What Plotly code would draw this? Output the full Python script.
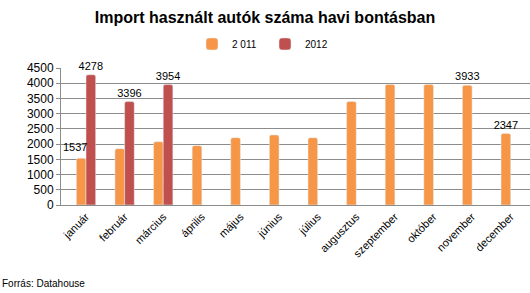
import plotly.graph_objects as go

months = ["január", "február", "március", "április", "május", "június",
          "július", "augusztus", "szeptember", "október", "november", "december"]
v2011 = [1537, 1850, 2080, 1950, 2210, 2300, 2210, 3400, 3960, 3960, 3933, 2347]
v2012 = [4278, 3396, 3954, None, None, None, None, None, None, None, None, None]
labels2011 = ["", "", "", "", "", "", "", "", "", "", "3933", "2347"]
labels2012 = ["4278", "3396", "3954", "", "", "", "", "", "", "", "", ""]

fig = go.Figure()
fig.add_trace(go.Bar(
    x=months, y=v2011, name="2 011", marker_color="#F79646",
    text=labels2011, textposition="outside", cliponaxis=False,
    constraintext="none",
    textfont=dict(size=11, color="#000000"),
))
fig.add_trace(go.Bar(
    x=months, y=v2012, name="2012", marker_color="#C0504D",
    text=labels2012, textposition="outside", cliponaxis=False,
    constraintext="none",
    textfont=dict(size=11, color="#000000"),
))

# January 2011 label sits to the left of the taller 2012 bar
fig.add_annotation(x=months[0], y=v2011[0], text=str(v2011[0]),
                   xanchor="right", yanchor="bottom", xshift=3, yshift=3,
                   showarrow=False, font=dict(size=11, color="#000000"))

fig.update_layout(
    width=530, height=293,
    margin=dict(l=61, r=0, t=68, b=88),
    paper_bgcolor="white", plot_bgcolor="white",
    font=dict(family="Liberation Sans, Arial, sans-serif", color="#000000"),
    barmode="group", bargap=0.5, bargroupgap=0,
    barcornerradius=2,
    title=dict(text="<b>Import használt autók száma havi bontásban</b>",
               x=0.5, xanchor="center", y=0.94, yanchor="middle",
               font=dict(size=16, color="#000000")),
    legend=dict(orientation="h", xref="container", x=0.5, xanchor="center",
                yref="container", y=0.85, yanchor="middle",
                font=dict(size=10), itemwidth=30, traceorder="normal",
                entrywidth=28, entrywidthmode="pixels",
                bgcolor="rgba(0,0,0,0)"),
    showlegend=True,
)
fig.update_yaxes(range=[0, 4500], dtick=500, showgrid=True, gridcolor="#8C8C8C",
                 gridwidth=1, showline=True, linecolor="#8C8C8C", ticks="outside",
                 ticklen=4, tickcolor="#8C8C8C", tickfont=dict(size=12),
                 zeroline=False, fixedrange=True)
fig.update_xaxes(showline=True, linecolor="#8C8C8C", tickangle=-45,
                 tickfont=dict(size=11), ticks="", fixedrange=True)

fig.add_annotation(text="Forrás: Datahouse", xref="paper", yref="paper",
                   x=-61/469, y=-78/137, xanchor="left", yanchor="middle",
                   showarrow=False, font=dict(size=10, color="#000000"))

fig.write_html("out.html")
